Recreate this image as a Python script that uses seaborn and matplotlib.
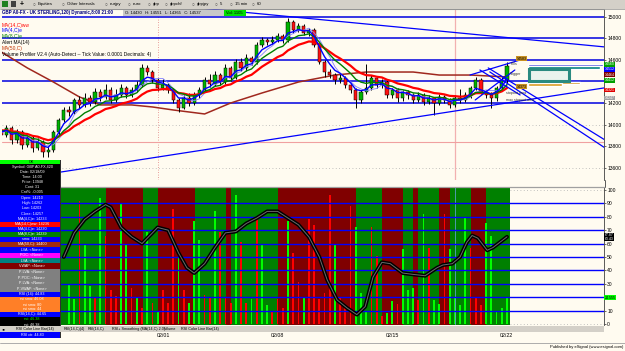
import numpy as np
import pandas as pd
import matplotlib
matplotlib.use("Agg")
import matplotlib.pyplot as plt
from matplotlib.patches import Rectangle
from matplotlib.lines import Line2D
import seaborn as sns

# ---------------- data ----------------
opens = [13900,13950,13900,13970,13855,13930,13810,13875,13780,13840,
         13745,13765,13930,14040,14135,14115,14230,14180,14245,14210,
         14300,14255,14320,14230,14275,14340,14275,14320,14370,14525,
         14490,14415,14340,14370,14320,14230,14155,14245,14200,14275,
         14320,14415,14380,14460,14395,14525,14435,14580,14525,14620,
         14580,14740,14785,14765,14785,14825,14785,14955,14880,14915,
         14850,14880,14740,14580,14490,14460,14415,14435,14370,14320,
         14230,14300,14340,14435,14370,14395,14275,14320,14245,14300,
         14275,14230,14275,14210,14245,14200,14255,14230,14180,14245,
         14230,14275,14340,14415,14300,14275,14245,14340,14415]
highs = [13990,13985,14000,13990,13960,13950,13900,13890,13870,13860,
         13800,13945,14060,14160,14175,14250,14265,14290,14270,14340,
         14330,14380,14345,14330,14380,14360,14350,14400,14560,14550,
         14510,14430,14420,14390,14340,14250,14270,14290,14300,14350,
         14440,14470,14500,14480,14560,14540,14610,14620,14660,14640,
         14770,14810,14800,14820,14850,14845,14990,14970,14940,14930,
         14900,14895,14760,14600,14520,14480,14470,14450,14390,14340,
         14320,14560,14460,14450,14420,14410,14340,14335,14320,14320,
         14290,14300,14290,14270,14260,14280,14270,14250,14270,14330,
         14300,14360,14440,14430,14320,14300,14360,14440,14580]
lows = [13860,13870,13880,13820,13830,13770,13790,13740,13760,13700,
        13700,13740,13900,14020,14080,14100,14150,14160,14170,14195,
        14220,14240,14200,14210,14260,14250,14255,14300,14350,14460,
        14390,14310,14320,14290,14200,14120,14140,14170,14180,14250,
        14300,14350,14360,14370,14380,14400,14420,14500,14500,14550,
        14560,14720,14740,14750,14770,14760,14770,14850,14860,14830,
        14820,14720,14560,14440,14430,14380,14390,14340,14290,14150,
        14200,14280,14320,14340,14340,14250,14250,14210,14220,14240,
        14200,14210,14180,14190,14090,14180,14200,14150,14160,14200,
        14210,14250,14320,14280,14250,14150,14220,14320,14390]
closes = [13950,13900,13970,13855,13930,13810,13875,13780,13840,13745,
          13765,13930,14040,14135,14115,14230,14180,14245,14210,14300,
          14255,14320,14230,14275,14340,14275,14320,14370,14525,14490,
          14415,14340,14370,14320,14230,14155,14245,14200,14275,14320,
          14415,14380,14460,14395,14525,14435,14580,14525,14620,14580,
          14740,14785,14765,14785,14825,14785,14955,14880,14915,14850,
          14880,14740,14580,14490,14460,14415,14435,14370,14320,14230,
          14300,14340,14435,14370,14395,14275,14320,14245,14300,14275,
          14230,14275,14210,14245,14200,14255,14230,14180,14245,14230,
          14275,14340,14415,14300,14275,14245,14340,14415,14545]
first_bar = 2

ma50_idx = [0, 3, 8, 13, 18, 22, 28, 32, 36, 42, 47, 53, 60, 67, 73, 82, 87, 93, 100]
ma50_val = [14712, 14675, 14526, 14395, 14256, 14182, 14182, 14163, 14135, 14098,
            14200, 14293, 14395, 14460, 14488, 14488, 14460, 14460, 14442]

vol_first = 16
volumes = [29,19,92,60,28,20,94,66,25,21,
           90,60,27,20,12,69,16,10,25,16,
           86,50,25,16,77,63,22,20,84,69,
           20,16,96,61,16,19,78,60,14,10,
           19,12,77,53,31,20,78,74,19,23,
           96,60,20,12,88,72,23,10,72,51,
           6,8,17,15,56,25,27,18,82,57,
           18,15,82,56,20,14,79,57,20,14,
           75,66,10,12,20]
vol_dir = ("ggrggrgrrr" "ggrgrgrgrr" "rgrgggrrgr" "rrgrrgrggr" "rrgrrgrrrr"
           "rgrrrgggrr" "rggrgggrgr" "ggrggggrrr" "ggggg")

rsi_idx = [15, 17, 19, 21, 23, 24, 26, 28, 30, 31.5, 33, 35, 37, 38.6, 40, 42, 44, 46,
           48, 50, 52, 54, 56, 58, 60, 62, 64, 65.5, 67.4, 69.3, 71.2, 72.8, 74.3, 76,
           77.6, 80, 82, 84.3, 86.6, 87.7, 89.5, 91, 92.3, 93.3, 94.4, 96.2, 97.3, 100]
rsi_val = [50, 68, 78, 84, 89, 87, 72, 65, 60, 66, 72, 70, 53, 42, 38, 45, 57, 68,
           69, 75, 79, 84, 84, 79, 74, 65, 50, 33, 18, 12, 7, 13, 35, 46,
           45, 38, 37, 36, 42, 44, 45, 50, 61, 66, 64, 55, 57, 65]

band_edges = [3, 23.1, 30.2, 33.1, 40.2, 46.1, 47.1, 56.1, 71.0, 76.0, 80.1, 82.0, 82.9,
              87.0, 89.1, 93.1, 96.0, 100.5]
band_dir = "grgrgrgrgrgrgrgrg"

price_ticks = [15000, 14800, 14600, 14400, 14200, 14000, 13800, 13600]
price_tick_labels = ["15000", "14800", "14600", "", "14200", "14000", "13800", "13600"]
blue_levels = [15000, 14800, 14600, 14400, 14200]
grid_levels = [14000, 13600]
pink_level = 13840
rsi_levels = [10, 20, 30, 40, 50, 60, 70, 80, 90]
rsi_ticks = [0, 10, 20, 30, 40, 50, 60, 70, 80, 90, 100]
rsi_tick_labels = ["0", "10", "", "30", "40", "50", "60", "70", "80", "90", "100"]
date_labels = ["02/01", "02/08", "02/15", "02/22"]
date_pos = [34.2, 55.9, 78.0, 99.8]

trend_lines = [((30, 15135), (118.8, 14721)),
               ((9.5, 13521), (119.8, 14349)),
               ((96.4, 14526), (118.8, 13856)),
               ((96.7, 14489), (118.8, 13782)),
               ((92.9, 14460), (102.5, 14600)),
               ((93.9, 14228), (101.5, 14507)),
               ((94.8, 14507), (102.5, 14275))]

vp_price = [14554, 14530, 14388, 14372]
vp_len = [14.4, 13.8, 10.0, 6.5]
vp_col = ["#1010d0", "#008080", "#cc8400", "#d99a20"]

right_tags = [(14560, "14560", "#00a000", "white"), (14512, "14512", "#0000ff", "white"),
              (14464, "14464", "#800000", "white"), (14412, "14412", "#00a000", "white"),
              (14321, "14321", "#e00000", "white"), (14247, "14247", "#a0a0a0", "white")]

info_rows = [("OK", "#00ff00", "black", 4),
             ("Symbol: GBP A0-FX,420", "black", "white", 5.2),
             ("Date: 02/18/09", "black", "white", 5.2),
             ("Time: 14:00", "black", "white", 5.2),
             ("Price: 13948", "black", "white", 5.2),
             ("Cont: 31", "black", "white", 5.2),
             ("Cnt%: -0.005", "black", "white", 5.0),
             ("Open: 14210", "#0000ff", "white", 5.4),
             ("High: 14262", "#0000ff", "white", 5.4),
             ("Low: 14203", "#0000ff", "white", 5.4),
             ("Close: 14257", "#0000ff", "white", 5.4),
             ("MA(4,C)e: 14233", "#0000ff", "white", 5.4),
             ("MA(14,C)ww: 14236", "#ff0000", "white", 5),
             ("MA(4,C)e: 14230", "#0000ff", "white", 5),
             ("MA(8,C)e: 14239", "#008000", "white", 5),
             ("sma: 14233", "#0000ff", "white", 5),
             ("MA(50,C): 14400", "#a02a10", "white", 5),
             ("LVA: <None>", "#0000ff", "white", 6),
             ("POC: <None>", "#ff00ff", "white", 5),
             ("LVA: <None>", "#008080", "white", 5),
             ("VWAP: <None>", "#800000", "white", 6),
             ("P-LVA: <None>", "#808080", "white", 5.75),
             ("P-POC: <None>", "#808080", "white", 5.75),
             ("P-LVA: <None>", "#808080", "white", 5.75),
             ("P-VWAP: <None>", "#808080", "white", 5.75),
             ("RSI (14): 44.83", "#0000ff", "white", 5),
             ("rsi sma: 46.08", "#ff7f27", "white", 5),
             ("rsi sma: 80", "#ff7f27", "white", 5),
             ("rsi sma: 44", "#ff7f27", "white", 5),
             ("RSI(14,C): 44.65", "#0000ff", "white", 5),
             ("rsi: 46.38", "black", "#00ff00", 5),
             ("rsi: 46.38", "black", "white", 5)]

toolbar_items = [("Equities", 38), ("Other Intervals", 67), ("eurjpy", 110), ("euro", 133),
                 ("gbp", 153), ("gbpchf", 170), ("gbpjpy", 197), ("5", 220),
                 ("15 min", 235), ("60", 257)]
tab_items = [("RSI Color Line Bar(14)", 16), ("RSI(14,C)(4)", 64), ("RSI(14,C)", 88),
             ("RSI+ Smoothing (MA(14,C) 2.0)", 112), ("Volume", 164),
             ("RSI Color Line Bar(14)", 181)]

# ---------------- styling ----------------
sns.set_theme(style="white")
plt.rcParams['font.family'] = ['Liberation Sans', 'DejaVu Sans']

W, H = 625, 351
CREAM = '#fffbf0'
fig = plt.figure(figsize=(W / 100, H / 100), dpi=100, facecolor=CREAM)


def fx(x):
    return x / W


def fy(y):
    return 1 - y / H


def prect(x0, y0, x1, y1, fc, ec='none', lw=0, z=5):
    fig.add_artist(Rectangle((fx(x0), fy(y1)), (x1 - x0) / W, (y1 - y0) / H,
                             transform=fig.transFigure, facecolor=fc, edgecolor=ec,
                             linewidth=lw, zorder=z))


def pline(x0, y0, x1, y1, color, lw=0.6, z=5, ls='-'):
    fig.add_artist(Line2D([fx(x0), fx(x1)], [fy(y0), fy(y1)], transform=fig.transFigure,
                          color=color, lw=lw, zorder=z, ls=ls))


def ptext(x, y, s, size=3.6, color='black', ha='left', weight='normal', z=6):
    fig.text(fx(x), fy(y), s, fontsize=size, color=color, ha=ha, va='center',
             fontweight=weight, zorder=z)


XMIN, XMAX = 3.145, 118.6
bar_idx = np.arange(first_bar, first_bar + len(closes))

# ---------------- price panel ----------------
ax1 = fig.add_axes([fx(2), fy(180), 602 / W, 171 / H])
ax1.set_facecolor(CREAM)
ax1.set_xlim(XMIN, XMAX)
ax1.set_ylim(13484, 15074)

for lv in grid_levels:
    ax1.axhline(lv, color='#b0b0b0', lw=0.6, ls=(0, (1, 3)), zorder=1)
for lv in blue_levels:
    ax1.axhline(lv, color='#0000e0', lw=1.1, zorder=2)
ax1.axhline(pink_level, color='#f0a0a0', lw=0.8, zorder=2)
ax1.axvline(33.1, color='#e08080', lw=0.6, ls=(0, (1, 2)), zorder=1)
ax1.axvline(90.0, color='#f2b0b0', lw=0.9, zorder=1)

# volume profile
ax1.barh(vp_price, vp_len, height=22, left=104, color=vp_col, zorder=3)
ax1.add_patch(Rectangle((104.2, 14405), 7.6, 110, facecolor='#eaf3ee', edgecolor='#2a8a80',
                        lw=2.2, zorder=3))

sns.lineplot(x=ma50_idx, y=ma50_val, ax=ax1, color='#a0281e', lw=1.1, zorder=3)

o = np.array(opens)
c = np.array(closes)
up = c >= o
ax1.vlines(bar_idx, lows, highs, color='black', lw=0.7, zorder=4)
ax1.bar(bar_idx, np.maximum(np.abs(c - o), 8), bottom=np.minimum(o, c), width=0.62,
        color=np.where(up, '#00b400', '#ff1010'), edgecolor='black', linewidth=0.35, zorder=4)

df = pd.DataFrame({'i': bar_idx, 'close': closes})
df['lb'] = df['close'].rolling(5, min_periods=1).mean()
df['red'] = df['close'].ewm(span=14, adjust=False).mean()
df['green'] = df['close'].ewm(span=8, adjust=False).mean()
df['blue'] = df['close'].ewm(span=4, adjust=False).mean()
sns.lineplot(data=df, x='i', y='lb', ax=ax1, color='#8080ff', lw=0.6, zorder=5)
sns.lineplot(data=df, x='i', y='red', ax=ax1, color='#ff0000', lw=1.6, zorder=5)
sns.lineplot(data=df, x='i', y='green', ax=ax1, color='#008000', lw=1.0, zorder=5)
sns.lineplot(data=df, x='i', y='blue', ax=ax1, color='#0000ff', lw=1.0, zorder=5)

for (x0, y0), (x1, y1) in trend_lines:
    ax1.plot([x0, x1], [y0, y1], color='#0000ff', lw=0.9, zorder=6)

ax1.set_xlabel('')
ax1.set_ylabel('')
ax1.set_xticks([])
ax1.yaxis.tick_right()
ax1.set_yticks(price_ticks)
ax1.set_yticklabels(price_tick_labels, fontsize=3.6)
ax1.tick_params(axis='y', length=1.5, width=0.4, pad=0.8, colors='black', right=True)
for s in ['left', 'bottom']:
    ax1.spines[s].set_visible(False)
ax1.spines['top'].set_color('#a0a0a0')
ax1.spines['top'].set_linewidth(0.8)
ax1.spines['right'].set_color('#404040')
ax1.spines['right'].set_linewidth(0.6)

for p, s, bg, fg in right_tags:
    ax1.text(118.75, p, s, fontsize=2.6, color=fg, va='center', ha='left', zorder=8,
             clip_on=False, bbox=dict(boxstyle='square,pad=0.12', fc=bg, ec='none'))

# labels inside the price panel
for s, y, col in [("14583", 14610, '#c89020'), ("14373", 14350, '#c89020')]:
    ax1.text(101.9, y, s, fontsize=2.6, color='black', va='center', zorder=8,
             bbox=dict(boxstyle='square,pad=0.15', fc=col, ec='none'))
for s, x, y in [("Kills", 100.8, 14560), ("Trigger", 100.5, 14465),
                ("stopout area", 99.8, 14290), ("max stopout area", 99.8, 14230)]:
    ax1.text(x, y, s, fontsize=2.6, color='#303030', va='center', zorder=8)

# ---------------- RSI / volume panel ----------------
ax2 = fig.add_axes([fx(2), fy(325), 602 / W, 138 / H])
ax2.set_facecolor(CREAM)
ax2.set_xlim(XMIN, XMAX)
ax2.set_ylim(-0.75, 102.2)
for k, d in enumerate(band_dir):
    ax2.axvspan(band_edges[k], band_edges[k + 1], color='#008000' if d == 'g' else '#800000',
                lw=0, zorder=0.5)
vol_idx = np.arange(vol_first, vol_first + len(volumes))
ax2.bar(vol_idx, volumes, width=0.34,
        color=['#00ff00' if d == 'g' else '#ff0000' for d in vol_dir], lw=0, zorder=2)
for lv in rsi_levels:
    ax2.axhline(lv, color='#0000ff', lw=1.0, zorder=3)
ax2.hlines([100, 0], 100.5, XMAX, colors='#b0b0b0', lw=0.6, linestyles=(0, (1, 3)), zorder=1)
ax2.axvline(90.0, color='#5aa0c8', lw=0.6, zorder=2.5)
sns.lineplot(x=rsi_idx, y=rsi_val, ax=ax2, color='black', lw=2.8, zorder=4)
sns.lineplot(x=rsi_idx, y=rsi_val, ax=ax2, color='#6a6a6a', lw=0.7, zorder=4.5)
ax2.set_xlabel('')
ax2.set_ylabel('')
ax2.yaxis.tick_right()
ax2.set_yticks(rsi_ticks)
ax2.set_yticklabels(rsi_tick_labels, fontsize=3.6)
ax2.tick_params(axis='y', length=1.5, width=0.4, pad=0.8, colors='black', right=True)
ax2.set_xticks(date_pos)
ax2.set_xticklabels(date_labels, fontsize=3.8)
ax2.tick_params(axis='x', length=0, pad=5.6, colors='black', bottom=True)
for s in ['left', 'bottom']:
    ax2.spines[s].set_visible(False)
ax2.spines['top'].set_color('#a0a0a0')
ax2.spines['top'].set_linewidth(0.9)
ax2.spines['right'].set_color('#404040')
ax2.spines['right'].set_linewidth(0.6)
ax2.text(118.75, 65, "67.87\n63.43", fontsize=2.5, color='white', va='center', ha='left',
         clip_on=False, zorder=8, linespacing=0.9,
         bbox=dict(boxstyle='square,pad=0.12', fc='black', ec='none'))
ax2.text(118.75, 19.5, "24.555", fontsize=2.6, color='black', va='center', ha='left',
         clip_on=False, zorder=8, bbox=dict(boxstyle='square,pad=0.12', fc='#00ff00', ec='none'))

# ---------------- chrome: toolbar, title, legend ----------------
prect(0, 0, W, 8.5, '#d4d0c8')
pline(0, 8.5, W, 8.5, '#909090', lw=0.5)
prect(2, 1.5, 8, 7, '#208020')
prect(11, 1.5, 16, 7, '#404040')
ptext(20, 4.3, "+", size=5, weight='bold')
for s, x in toolbar_items:
    ptext(x - 5, 4.3, "\u25cb", size=3.4, color='#404040')
    ptext(x, 4.3, s, size=3.1)
pline(604.5, 180, 604.5, 187, '#404040', lw=0.6)

ptext(2, 12.6, "GBP A0-FX - UK STERLING,120) Dynamic,8:00 21:00", size=3.25,
      color='#000080', weight='bold')
prect(123, 9.6, 224, 15.6, '#c8c8c8')
ptext(125, 12.6, "O: 14430   H: 14551   L: 14365   C: 14537", size=3.0)
prect(224, 9.6, 246, 15.6, '#00e000')
ptext(226, 12.6, "Vol: 1105", size=3.0)
ptext(2, 25, "MA(14,C)ww", size=3.5, color='#ff0000')
ptext(2, 30.6, "MA(4,C)e", size=3.5, color='#0000ff')
ptext(2, 36.2, "MA(8,C)e", size=3.5, color='#008000')
ptext(2, 42.6, "Alert MA(14)", size=3.5)
ptext(2, 48.2, "MA(50,C)", size=3.5, color='#c03000')
ptext(2, 54.2, "Volume Profiler V2.4 (Auto-Detect -- Tick Value: 0.0001 Decimals: 4)", size=3.5)

# ---------------- info panel (left) ----------------
y = 160
prect(0, 159.5, 61, 338, '#303030', z=4.9)
for s, bg, fg, h in info_rows:
    prect(0, y, 60, y + h, bg)
    ptext(32, y + h / 2, s, size=2.7, color=fg, ha='center')
    y += h
prect(0, 332, 60, 337.5, '#0000ff')
ptext(32, 334.8, "RSI ctr: 44.83", size=2.7, color='white', ha='center')

# ---------------- tab bar and footer ----------------
prect(0, 326, 604, 331.5, '#d4d0c8', z=6)
ptext(2, 328.8, "\u25c2\u25b8", size=3.0, z=7)
for s, x in tab_items:
    ptext(x, 328.8, s, size=2.7, z=7)
pline(0, 343, W, 343, '#a0a0a0', lw=0.6)
ptext(623, 347.3, "Published by eSignal (www.esignal.com)", size=3.0, ha='right')

fig.savefig("out.png", dpi=100, facecolor=CREAM)
